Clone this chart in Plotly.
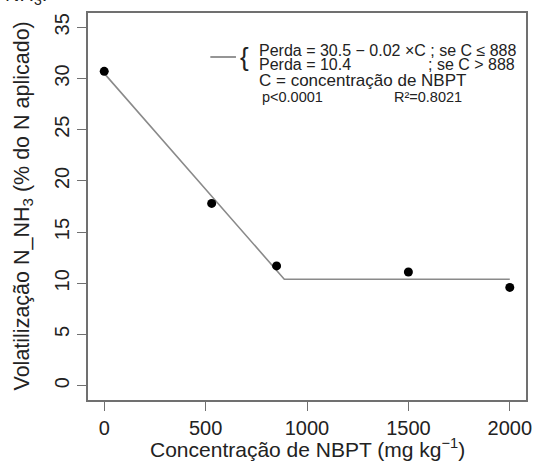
import plotly.graph_objects as go

# Observed data
conc = [0, 530, 850, 1500, 2000]
loss = [30.7, 17.8, 11.7, 11.1, 9.6]

# Fitted plateau model (segment ends)
fit_x = [0, 888, 2000]
fit_y = [30.5, 10.4, 10.4]

x_ticks = [0, 500, 1000, 1500, 2000]
y_ticks = [0, 5, 10, 15, 20, 25, 30, 35]

FONT = "Liberation Sans, Arial, sans-serif"
TXT = "#222222"
AX = "#707070"

W, H = 543, 465
L, R, T, B = 88, 11, 13, 65
pw, ph = W - L - R, H - T - B


def px(x):
    return (x - L) / pw


def py(y):
    return (H - B - y) / ph


fig = go.Figure()
fig.add_trace(go.Scatter(x=fit_x, y=fit_y, mode="lines",
                         line=dict(color="#8a8a8a", width=1.6),
                         hoverinfo="skip", showlegend=False))
fig.add_trace(go.Scatter(x=conc, y=loss, mode="markers",
                         marker=dict(color="black", size=9),
                         showlegend=False))

axis_common = dict(showline=True, linecolor=AX, linewidth=1.5, mirror=True,
                   ticks="outside", ticklen=9, tickwidth=1.3, tickcolor=AX,
                   showgrid=False, zeroline=False,
                   tickfont=dict(family=FONT, size=20, color=TXT))

fig.update_xaxes(range=[-80, 2080], tickvals=x_ticks, **axis_common)
fig.update_yaxes(range=[-1.4, 36.4], tickvals=y_ticks, tickangle=-90, **axis_common)

ann = []
# axis titles
ann.append(dict(text="Concentração de NBPT (mg kg<sup>−1</sup>)", xref="paper", yref="paper",
                x=0.5, y=0, yshift=-48, xanchor="center", yanchor="middle", showarrow=False,
                font=dict(family=FONT, size=21, color=TXT)))
ann.append(dict(text="Volatilização N_NH<sub>3</sub> (% do N aplicado)", xref="paper", yref="paper",
                x=0, y=0.5, xshift=-65, xanchor="center", yanchor="middle", textangle=-90,
                showarrow=False, font=dict(family=FONT, size=21.5, color=TXT)))
# legend text
ann.append(dict(text="{", xref="paper", yref="paper", x=px(247), y=py(57), xanchor="center",
                yanchor="middle", showarrow=False, font=dict(family=FONT, size=26, color=TXT)))
ann.append(dict(text="Perda = 30.5 − 0.02 ×C ; se C ≤ 888", xref="paper", yref="paper",
                x=px(259), y=py(50.5), xanchor="left", yanchor="middle", showarrow=False,
                font=dict(family=FONT, size=16, color=TXT)))
ann.append(dict(text="Perda = 10.4", xref="paper", yref="paper",
                x=px(259), y=py(64), xanchor="left", yanchor="middle", showarrow=False,
                font=dict(family=FONT, size=16, color=TXT)))
ann.append(dict(text="; se C > 888", xref="paper", yref="paper",
                x=px(523), y=py(64), xanchor="right", yanchor="middle", showarrow=False,
                font=dict(family=FONT, size=16, color=TXT)))
ann.append(dict(text="C = concentração de NBPT", xref="paper", yref="paper",
                x=px(259), y=py(80.5), xanchor="left", yanchor="middle", showarrow=False,
                font=dict(family=FONT, size=17, color=TXT)))
ann.append(dict(text="p<0.0001", xref="paper", yref="paper",
                x=px(262), y=py(97.5), xanchor="left", yanchor="middle", showarrow=False,
                font=dict(family=FONT, size=14.5, color=TXT)))
ann.append(dict(text="R²=0.8021", xref="paper", yref="paper",
                x=px(396), y=py(97.5), xanchor="left", yanchor="middle", showarrow=False,
                font=dict(family=FONT, size=14.5, color=TXT)))
# cropped caption fragment at the very top
ann.append(dict(text="NH<sub>3</sub>.", xref="paper", yref="paper",
                x=px(2), y=py(10), xanchor="left", yanchor="bottom", showarrow=False,
                font=dict(family=FONT, size=20, color=TXT)))

fig.add_shape(type="line", xref="paper", yref="paper", x0=px(212), x1=px(238),
              y0=py(57), y1=py(57), line=dict(color="#8a8a8a", width=1.8))

fig.update_layout(width=W, height=H, margin=dict(l=L, r=R, t=T, b=B),
                  plot_bgcolor="white", paper_bgcolor="white",
                  annotations=ann, showlegend=False,
                  font=dict(family=FONT, color=TXT))

fig.write_html("out.html", config={"displayModeBar": False},
               post_script="document.body.style.margin='0';")
